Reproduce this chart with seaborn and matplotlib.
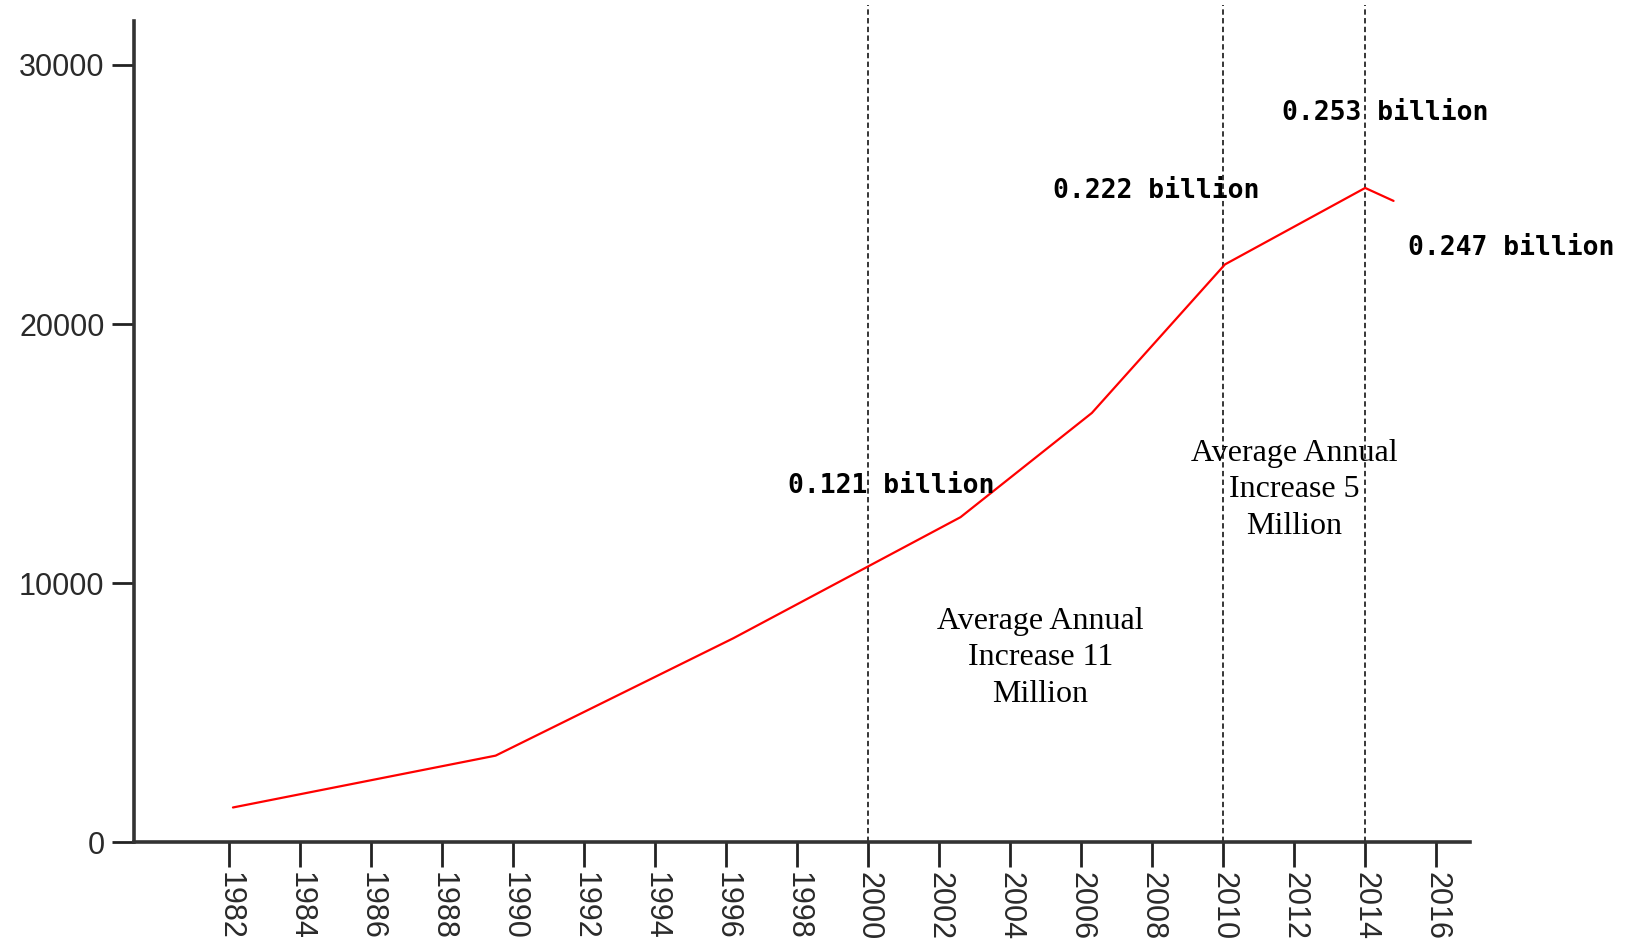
import numpy as np
import pandas as pd
import matplotlib
matplotlib.use("Agg")
import matplotlib.pyplot as plt
import seaborn as sns

# Values (x = year position, y = value)
years = [1982.1, 1989.5, 1996.2, 2002.6, 2006.3, 2010.05, 2014.0, 2014.8]
values = [1350, 3350, 7880, 12550, 16570, 22300, 25250, 24750]

tick_years = list(range(1982, 2017, 2))
y_ticks = [0, 10000, 20000, 30000]
marker_years = [2000, 2010, 2014]

# annotation texts and where they sit (data coords)
value_labels = ["0.121 billion", "0.222 billion", "0.253 billion", "0.247 billion"]
value_label_x = [1997.75, 2005.2, 2011.65, 2015.2]
value_label_y = [13750, 25150, 28150, 22950]

note_labels = ["Average Annual\nIncrease 11\nMillion", "Average Annual\nIncrease 5\nMillion"]
note_x = [2004.85, 2012.0]
note_y = [7120, 13600]

sns.set_style("white")
plt.rcParams['font.family'] = ['Liberation Sans', 'DejaVu Sans']

fig = plt.figure(figsize=(16.35, 9.43), dpi=100)
ax = fig.add_axes([0.0817, 0.1066, 0.8173, 0.8714])

df = pd.DataFrame({"year": years, "value": values})
sns.lineplot(data=df, x="year", y="value", color="#ff0000", linewidth=1.6, ax=ax)

ax.set_xlim(1979.3, 2016.95)
ax.set_ylim(0, 31700)

for yr in marker_years:
    ax.plot([yr, yr], [0, 32300], color="black", linewidth=1.1,
            linestyle=(0, (3.5, 2.2)), clip_on=False, zorder=1)

ax.set_xticks(tick_years)
ax.set_xticklabels([str(y) for y in tick_years], rotation=270, fontsize=22,
                   color="#2a2a2a")
ax.set_yticks(y_ticks)
ax.set_yticklabels([str(v) for v in y_ticks], fontsize=22, color="#2a2a2a")
ax.tick_params(axis="x", bottom=True, direction="out", length=18, width=2, pad=3,
               color="#222222")
ax.tick_params(axis="y", left=True, direction="out", length=16, width=2, pad=5,
               color="#222222")
ax.set_xlabel("")
ax.set_ylabel("")

sns.despine(ax=ax, top=True, right=True)
for side in ["left", "bottom"]:
    ax.spines[side].set_linewidth(2.6)
    ax.spines[side].set_color("#333333")

for txt, x, y in zip(value_labels, value_label_x, value_label_y):
    ax.text(x, y, txt, fontsize=19, fontweight="bold", family="DejaVu Sans Mono",
            ha="left", va="center", color="black", clip_on=False)

for txt, x, y in zip(note_labels, note_x, note_y):
    ax.text(x, y, txt, fontsize=23, family="Liberation Serif", ha="center",
            va="center", color="black", linespacing=1.35, clip_on=False)

fig.savefig("out.png", dpi=100)
